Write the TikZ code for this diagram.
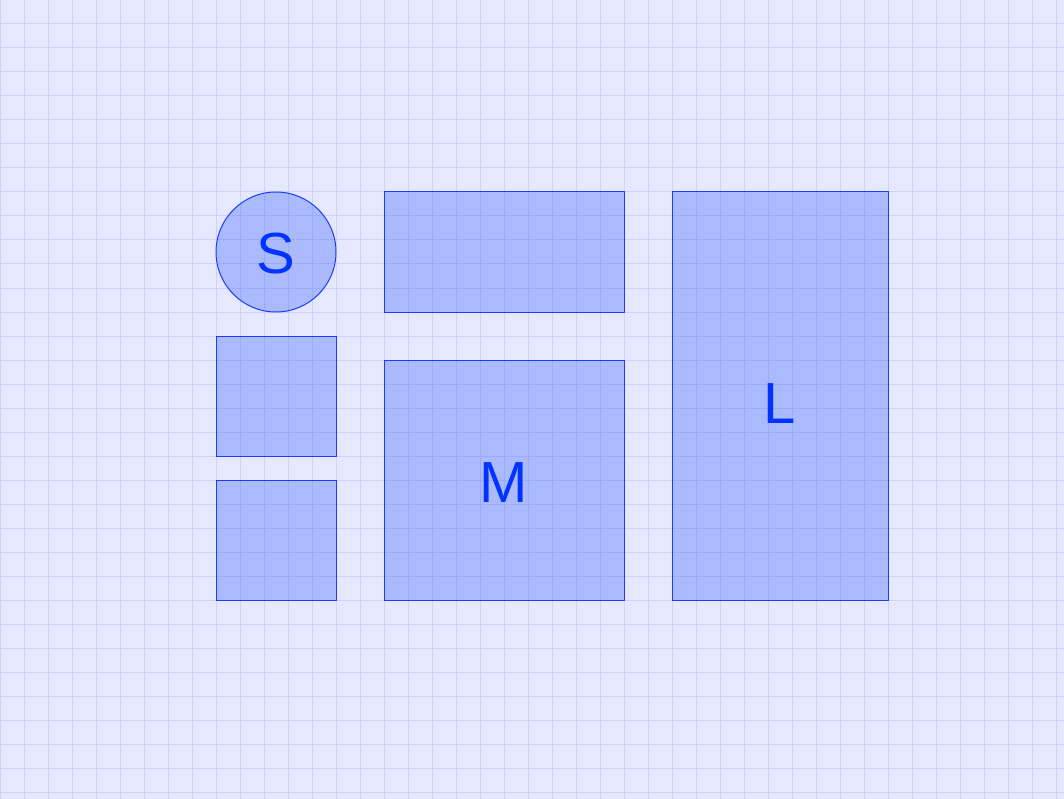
\documentclass[tikz,border=0pt]{standalone}
\usepackage{fontspec}
\setmainfont{Liberation Sans}
\usepackage{tikz}
\usetikzlibrary{positioning}

\definecolor{bgcol}{RGB}{229,232,255}
\definecolor{gridcol}{RGB}{206,210,255}
\definecolor{shapecol}{RGB}{0,51,255}
\definecolor{linecol}{RGB}{26,60,255}

\tikzset{
    tile/.style = {draw = linecol, line width = 1pt, fill = shapecol, fill opacity = 0.25},
    letter/.style = {text = shapecol, font = \fontsize{58}{60}\selectfont, inner sep = 0pt}
}

\begin{document}
\begin{tikzpicture}[x = 1pt, y = -1pt]
            \fill[bgcol] (0,0) rectangle (1064,799);
            \useasboundingbox (0,0) rectangle (1064,799);
            \foreach \gx in {0,24,...,1056} \draw[gridcol, line width = 1pt] (\gx,0) -- (\gx,799);
            \foreach \gy in {0,24,...,792} \draw[gridcol, line width = 1pt] (0,\gy) -- (1064,\gy);
            \draw[tile] (276,252) circle (60);
            \draw[tile] (216,336) rectangle (336,456);
            \draw[tile] (216,480) rectangle (336,600);
            \draw[tile] (384,192) rectangle (624,312);
            \draw[tile] (384,360) rectangle (624,600);
            \draw[tile] (672,192) rectangle (888,600);
            \node[letter] (s) at (276,254) {S};
            \node[letter] (m) at (504,483) {M};
            \node[letter] (l) at (780,404) {L};
        \end{tikzpicture}
\end{document}
